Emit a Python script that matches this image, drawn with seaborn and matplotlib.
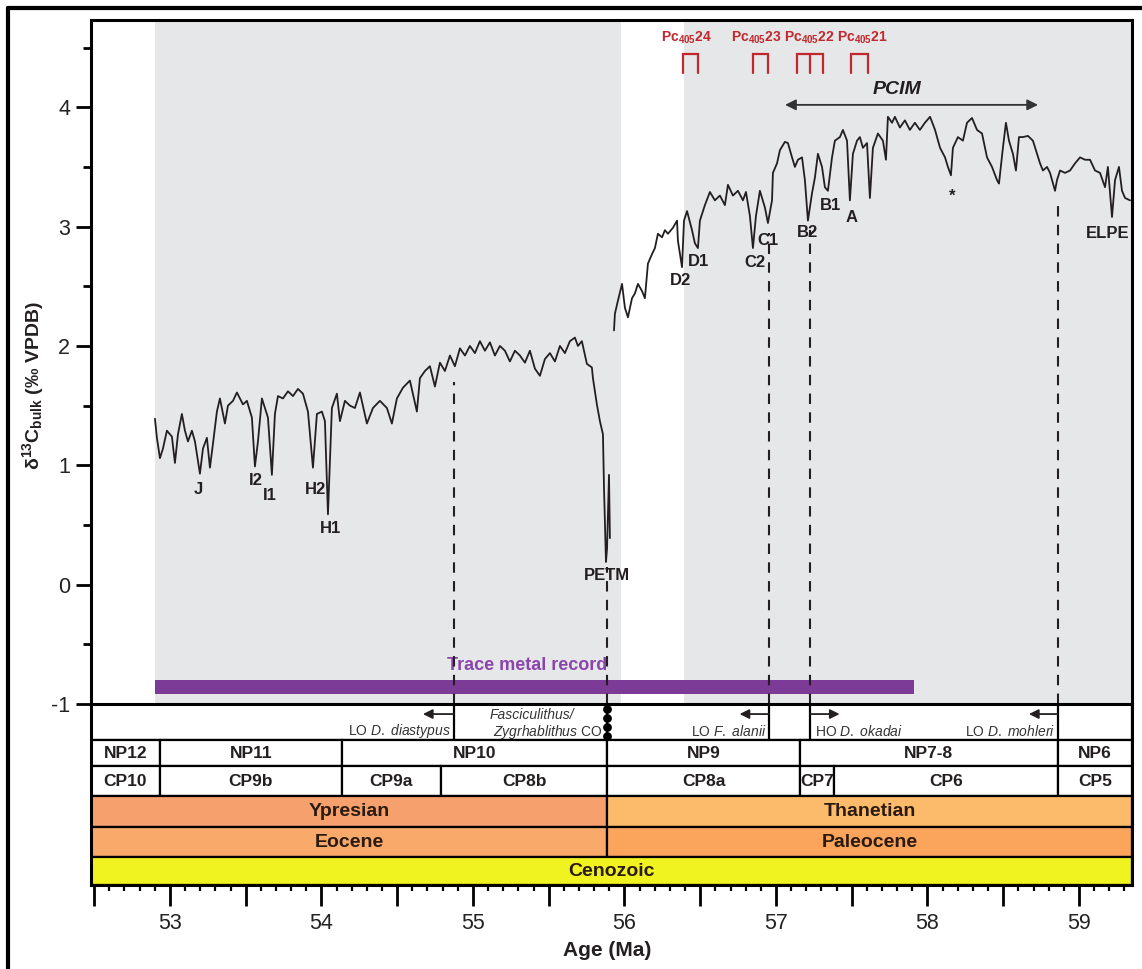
import numpy as np
import pandas as pd
import matplotlib
matplotlib.use("Agg")
import matplotlib.pyplot as plt
import seaborn as sns
from matplotlib.ticker import MultipleLocator, FuncFormatter
from matplotlib.patches import Rectangle
from matplotlib.lines import Line2D

# ---------------------------------------------------------------------------
# Bulk carbonate carbon-isotope record (age in Ma, d13C in permil VPDB)
# ---------------------------------------------------------------------------
eocene_age = [52.901, 52.914, 52.934, 52.954, 52.980, 53.013, 53.033, 53.053, 53.079, 53.099,
              53.119, 53.145, 53.165, 53.198, 53.218, 53.244, 53.264, 53.284, 53.310, 53.330,
              53.363, 53.383, 53.416, 53.442, 53.462, 53.482, 53.508, 53.541, 53.561, 53.581,
              53.607, 53.627, 53.647, 53.673, 53.693, 53.713, 53.746, 53.779, 53.812, 53.845,
              53.878, 53.911, 53.944, 53.970, 54.003, 54.023, 54.043, 54.069, 54.102, 54.122,
              54.155, 54.188, 54.221, 54.254, 54.300, 54.340, 54.386, 54.432, 54.465, 54.498,
              54.538, 54.584, 54.630, 54.650, 54.683, 54.716, 54.749, 54.782, 54.815, 54.848,
              54.881, 54.914, 54.947, 54.980, 55.013, 55.046, 55.079, 55.112, 55.145, 55.178,
              55.211, 55.244, 55.277, 55.310, 55.343, 55.376, 55.409, 55.442, 55.475, 55.508,
              55.541, 55.574, 55.607, 55.640, 55.673, 55.693, 55.719, 55.752, 55.785, 55.792,
              55.818, 55.838, 55.858, 55.865, 55.878, 55.885, 55.898, 55.904]
eocene_d13c = [1.39, 1.23, 1.06, 1.14, 1.29, 1.24, 1.02, 1.26, 1.43, 1.29,
               1.20, 1.29, 1.20, 0.93, 1.14, 1.23, 0.98, 1.18, 1.45, 1.56,
               1.35, 1.50, 1.54, 1.61, 1.56, 1.51, 1.54, 1.40, 0.99, 1.20,
               1.56, 1.48, 1.40, 0.92, 1.43, 1.58, 1.56, 1.62, 1.58, 1.64,
               1.60, 1.45, 0.98, 1.43, 1.45, 1.37, 0.59, 1.48, 1.60, 1.37,
               1.54, 1.50, 1.48, 1.61, 1.35, 1.48, 1.54, 1.48, 1.35, 1.56,
               1.65, 1.71, 1.45, 1.73, 1.79, 1.83, 1.66, 1.86, 1.79, 1.92,
               1.83, 1.98, 1.92, 2.00, 1.94, 2.04, 1.96, 2.03, 1.92, 2.00,
               1.96, 1.87, 1.96, 1.92, 1.86, 1.96, 1.81, 1.75, 1.89, 1.94,
               1.87, 2.00, 1.94, 2.04, 2.07, 2.00, 2.04, 1.85, 1.82, 1.73,
               1.51, 1.37, 1.26, 0.81, 0.19, 0.30, 0.92, 0.39]

paleocene_age = [55.931, 55.937, 55.957, 55.984, 56.003, 56.023, 56.050, 56.069, 56.089, 56.116,
                 56.135, 56.155, 56.182, 56.201, 56.221, 56.248, 56.267, 56.287, 56.320, 56.347,
                 56.353, 56.380, 56.393, 56.413, 56.446, 56.465, 56.485, 56.498, 56.531, 56.564,
                 56.597, 56.630, 56.663, 56.683, 56.716, 56.749, 56.782, 56.802, 56.828, 56.848,
                 56.868, 56.894, 56.927, 56.947, 56.974, 56.980, 57.007, 57.026, 57.059, 57.079,
                 57.106, 57.125, 57.145, 57.172, 57.191, 57.211, 57.238, 57.257, 57.277, 57.304,
                 57.323, 57.343, 57.370, 57.389, 57.422, 57.442, 57.469, 57.488, 57.508, 57.535,
                 57.554, 57.574, 57.601, 57.620, 57.640, 57.673, 57.706, 57.726, 57.739, 57.766,
                 57.785, 57.818, 57.851, 57.884, 57.917, 57.950, 57.983, 58.017, 58.050, 58.083,
                 58.116, 58.135, 58.155, 58.168, 58.201, 58.234, 58.261, 58.294, 58.327, 58.360,
                 58.393, 58.426, 58.459, 58.472, 58.498, 58.518, 58.538, 58.564, 58.584, 58.604,
                 58.630, 58.663, 58.696, 58.723, 58.743, 58.762, 58.789, 58.809, 58.842, 58.855,
                 58.875, 58.908, 58.941, 58.974, 59.007, 59.040, 59.073, 59.106, 59.139, 59.172,
                 59.191, 59.218, 59.238, 59.264, 59.284, 59.304, 59.337]
paleocene_d13c = [2.13, 2.27, 2.38, 2.52, 2.32, 2.24, 2.40, 2.44, 2.52, 2.46,
                  2.40, 2.69, 2.77, 2.82, 2.94, 2.91, 2.97, 2.94, 2.99, 3.05,
                  2.88, 2.66, 3.05, 3.13, 2.97, 2.86, 2.82, 3.05, 3.18, 3.29,
                  3.22, 3.26, 3.18, 3.35, 3.26, 3.30, 3.22, 3.29, 3.09, 2.82,
                  3.09, 3.30, 3.16, 3.03, 3.22, 3.45, 3.53, 3.64, 3.71, 3.70,
                  3.58, 3.50, 3.56, 3.58, 3.39, 3.05, 3.28, 3.41, 3.61, 3.50,
                  3.33, 3.30, 3.58, 3.72, 3.75, 3.81, 3.72, 3.22, 3.61, 3.72,
                  3.75, 3.66, 3.70, 3.24, 3.66, 3.78, 3.72, 3.56, 3.92, 3.87,
                  3.92, 3.83, 3.89, 3.81, 3.87, 3.81, 3.87, 3.92, 3.81, 3.66,
                  3.58, 3.50, 3.43, 3.66, 3.75, 3.72, 3.87, 3.91, 3.81, 3.78,
                  3.58, 3.50, 3.39, 3.36, 3.66, 3.87, 3.72, 3.61, 3.47, 3.75,
                  3.75, 3.76, 3.72, 3.61, 3.53, 3.47, 3.50, 3.45, 3.30, 3.39,
                  3.47, 3.45, 3.47, 3.53, 3.58, 3.56, 3.56, 3.47, 3.45, 3.33,
                  3.50, 3.08, 3.39, 3.50, 3.30, 3.24, 3.22]

# Named excursions
event_names = ["J", "I2", "I1", "H2", "H1", "PETM", "D2", "D1", "C2", "C1",
               "B2", "B1", "A", "*", "ELPE"]
event_age = [53.19, 53.57, 53.66, 53.96, 54.06, 55.885, 56.37, 56.49, 56.86, 56.95,
             57.21, 57.36, 57.50, 58.16, 59.19]
event_d13c = [0.80, 0.87, 0.75, 0.80, 0.47, 0.08, 2.55, 2.71, 2.70, 2.88,
              2.95, 3.18, 3.08, 3.25, 2.94]

# 405-kyr eccentricity cycles (bracket edges, optional middle leg)
pc_labels = ["24", "23", "22", "21"]
pc_left = [56.386, 56.848, 57.139, 57.495]
pc_right = [56.485, 56.947, 57.310, 57.607]
pc_mid = [None, None, 57.224, None]
pc_label_age = [56.41, 56.87, 57.22, 57.57]

# Grey intervals, trace-metal interval, PCIM
grey_spans = [(52.90, 55.98), (56.39, 59.35)]
trace_metal_span = (52.90, 57.91)
pcim_span = (57.06, 58.73)

# Nannofossil datums (age, top of dashed guide in d13C units)
datum_age = [54.875, 55.885, 56.955, 57.225, 58.86]
datum_top = [1.70, 0.15, 2.95, 2.97, 3.20]

# Biostratigraphy / chronostratigraphy
x_min, x_max = 52.479, 59.350
np_names = ["NP12", "NP11", "NP10", "NP9", "NP7-8", "NP6"]
np_bounds = [x_min, 52.934, 54.135, 55.885, 57.158, 58.861, x_max]
cp_names = ["CP10", "CP9b", "CP9a", "CP8b", "CP8a", "CP7", "CP6", "CP5"]
cp_bounds = [x_min, 52.934, 54.135, 54.789, 55.885, 57.158, 57.383, 58.861, x_max]
stage_names = ["Ypresian", "Thanetian"]
epoch_names = ["Eocene", "Paleocene"]
era_name = "Cenozoic"
boundary_age = 55.885

# ---------------------------------------------------------------------------
sns.set_style("ticks")
plt.rcParams["font.family"] = ["Liberation Sans", "DejaVu Sans"]
plt.rcParams["mathtext.fontset"] = "custom"
plt.rcParams["mathtext.rm"] = "Liberation Sans"
plt.rcParams["mathtext.it"] = "Liberation Sans:italic"
plt.rcParams["mathtext.bf"] = "Liberation Sans:bold"
plt.rcParams["axes.unicode_minus"] = False

INK = "#231f20"
GREY = "#e6e7e8"
RED = "#c1272d"

W, H = 1142, 969
fig = plt.figure(figsize=(W / 100, H / 100), dpi=100)


def fx(px):
    return px / W


def fy(py):
    return 1 - py / H


ax = fig.add_axes([fx(91), fy(704), fx(1132) - fx(91), fy(20) - fy(704)])
axt = fig.add_axes([fx(91), fy(885), fx(1132) - fx(91), fy(704) - fy(885)])

# ---------------- main panel ----------------
ax.set_xlim(x_min, x_max)
ax.set_ylim(-1, 4.731)
for a, b in grey_spans:
    ax.axvspan(a, b, color=GREY, lw=0, zorder=0)

ax.fill_between(list(trace_metal_span), -0.915, -0.80, color="#7b3b96", lw=0, zorder=2)
ax.text(55.36, -0.68, "Trace metal record", color="#8b44ac", fontsize=13,
        fontweight="bold", ha="center", va="center", zorder=3)

df = pd.DataFrame({
    "age": eocene_age + paleocene_age,
    "d13c": eocene_d13c + paleocene_d13c,
    "segment": ["eocene"] * len(eocene_age) + ["paleocene"] * len(paleocene_age),
})
sns.lineplot(data=df, x="age", y="d13c", units="segment", estimator=None, sort=False,
             color=INK, lw=1.3, ax=ax, legend=False, zorder=4)

ax.vlines(datum_age, -1, datum_top, colors=INK, lw=1.5, linestyles=(0, (5, 4)), zorder=3)

for name, a, v in zip(event_names, event_age, event_d13c):
    ax.text(a, v, name, fontsize=12, fontweight="bold", color=INK,
            ha="center", va="center", zorder=5)

# eccentricity brackets
for lab, l, r, m, la in zip(pc_labels, pc_left, pc_right, pc_mid, pc_label_age):
    xs = [l, l, r, r]
    ys = [4.29, 4.45, 4.45, 4.29]
    ax.plot(xs, ys, color=RED, lw=1.6, solid_joinstyle="miter", zorder=5)
    if m is not None:
        ax.plot([m, m], [4.29, 4.45], color=RED, lw=1.6, zorder=5)
    ax.text(la, 4.585, r"Pc$_{\mathbf{405}}$" + lab, color=RED, fontsize=10,
            fontweight="bold", ha="center", va="center", zorder=5)

ax.annotate("", xy=(pcim_span[0], 4.02), xytext=(pcim_span[1], 4.02),
            arrowprops=dict(arrowstyle="<|-|>", color="#333333", lw=1.3,
                            mutation_scale=16, shrinkA=0, shrinkB=0), zorder=5)
ax.text(sum(pcim_span) / 2 - 0.095, 4.15, "PCIM", fontsize=14, fontweight="bold",
        fontstyle="italic", color=INK, ha="center", va="center", zorder=5)

ax.yaxis.set_major_locator(MultipleLocator(1))
ax.yaxis.set_minor_locator(MultipleLocator(0.5))
ax.tick_params(axis="y", which="major", length=11, width=2, labelsize=15.5,
               color="black", labelcolor="#222222", pad=4)
ax.tick_params(axis="y", which="minor", length=6, width=2, color="black")
ax.tick_params(axis="x", which="both", bottom=False, labelbottom=False)
ax.set_xlabel("")
ax.set_ylabel("")
for side in ["left", "top", "right"]:
    ax.spines[side].set_linewidth(2.2)
    ax.spines[side].set_color("black")
ax.spines["bottom"].set_visible(False)

# ---------------- stratigraphic table ----------------
axt.set_xlim(x_min, x_max)
axt.set_ylim(180, 0)
rows = [0, 36, 62, 91, 122, 152, 180]


def cell(x0, x1, r, color, text, size, weight="bold", tcolor=INK):
    y0, y1 = rows[r], rows[r + 1]
    axt.add_patch(Rectangle((x0, y0), x1 - x0, y1 - y0, facecolor=color,
                            edgecolor="black", lw=1.6, zorder=1))
    if text:
        axt.text((x0 + x1) / 2, (y0 + y1) / 2 + 0.5, text, ha="center", va="center",
                 fontsize=size, fontweight=weight, color=tcolor, zorder=3)


cell(x_min, x_max, 0, "white", "", 10)
for i, name in enumerate(np_names):
    cell(np_bounds[i], np_bounds[i + 1], 1, "white", name, 12.5)
for i, name in enumerate(cp_names):
    cell(cp_bounds[i], cp_bounds[i + 1], 2, "white", name, 12.5)
cell(x_min, boundary_age, 3, "#f6a06e", stage_names[0], 14, tcolor="#2b1a10")
cell(boundary_age, x_max, 3, "#fcbb6a", stage_names[1], 14, tcolor="#2b1a10")
cell(x_min, boundary_age, 4, "#f9aa6b", epoch_names[0], 14, tcolor="#2b1a10")
cell(boundary_age, x_max, 4, "#fba45c", epoch_names[1], 14, tcolor="#2b1a10")
cell(x_min, x_max, 5, "#f0f31f", era_name, 14, tcolor="#2b1a10")

# datum lines and labels in the top row
for a in [54.875, 56.955, 57.225, 58.86]:
    axt.plot([a, a], [0, 36], color="black", lw=1.6, zorder=2)
axt.plot([boundary_age, boundary_age], [0, 36], color="black", lw=1.6, zorder=2)
axt.scatter([boundary_age] * 4, [5, 14, 23, 32], s=28, color="black", zorder=3,
            clip_on=False)

arrow_kw = dict(arrowstyle="-|>", color=INK, lw=1.3, mutation_scale=14,
                shrinkA=0, shrinkB=0)
axt.annotate("", xy=(54.67, 10), xytext=(54.875, 10), arrowprops=arrow_kw, zorder=3)
axt.annotate("", xy=(56.76, 10), xytext=(56.955, 10), arrowprops=arrow_kw, zorder=3)
axt.annotate("", xy=(57.42, 10), xytext=(57.225, 10), arrowprops=arrow_kw, zorder=3)
axt.annotate("", xy=(58.67, 10), xytext=(58.86, 10), arrowprops=arrow_kw, zorder=3)

bio_kw = dict(fontsize=10, color="#333333", va="center", zorder=3)
axt.text(54.855, 27, r"LO $\mathit{D.\ diastypus}$", ha="right", **bio_kw)
axt.text(55.11, 11, "Fasciculithus/", ha="left", fontstyle="italic", **bio_kw)
axt.text(55.855, 28, r"$\mathit{Zygrhablithus}$ CO", ha="right", **bio_kw)
axt.text(56.935, 27, r"LO $\mathit{F.\ alanii}$", ha="right", **bio_kw)
axt.text(57.26, 27, r"HO $\mathit{D.\ okadai}$", ha="left", **bio_kw)
axt.text(58.84, 27, r"LO $\mathit{D.\ mohleri}$", ha="right", **bio_kw)

axt.xaxis.set_major_locator(MultipleLocator(0.5))
axt.xaxis.set_minor_locator(MultipleLocator(0.1))
axt.xaxis.set_major_formatter(FuncFormatter(
    lambda v, p: f"{v:.0f}" if abs(v - round(v)) < 1e-6 else ""))
axt.tick_params(axis="x", which="major", length=15, width=2, labelsize=15.5,
                color="black", labelcolor="#222222", pad=5, direction="out")
axt.tick_params(axis="x", which="minor", length=4.5, width=1.6, color="black",
                direction="out")
axt.tick_params(axis="y", which="both", left=False, labelleft=False)
axt.set_xlabel("")
axt.set_ylabel("")
for side in ["left", "top", "right", "bottom"]:
    axt.spines[side].set_linewidth(2.2)
    axt.spines[side].set_color("black")
    axt.spines[side].set_zorder(4)

# axis titles
fig.text(fx(33), fy(385), r"δ$^{\mathbf{13}}$C$_{\mathbf{bulk}}$ (‰ VPDB)", rotation=90,
         ha="center", va="center", fontsize=14, fontweight="bold", color=INK)
fig.text(fx(607), fy(950), "Age (Ma)", ha="center", va="center", fontsize=15,
         fontweight="bold", color=INK)

# outer frame
fig.add_artist(Line2D([fx(8), fx(8)], [fy(8), 0], transform=fig.transFigure,
                      color="black", lw=3))
fig.add_artist(Line2D([fx(8), 1], [fy(8), fy(8)], transform=fig.transFigure,
                      color="black", lw=3))

fig.savefig("out.png", dpi=100)
